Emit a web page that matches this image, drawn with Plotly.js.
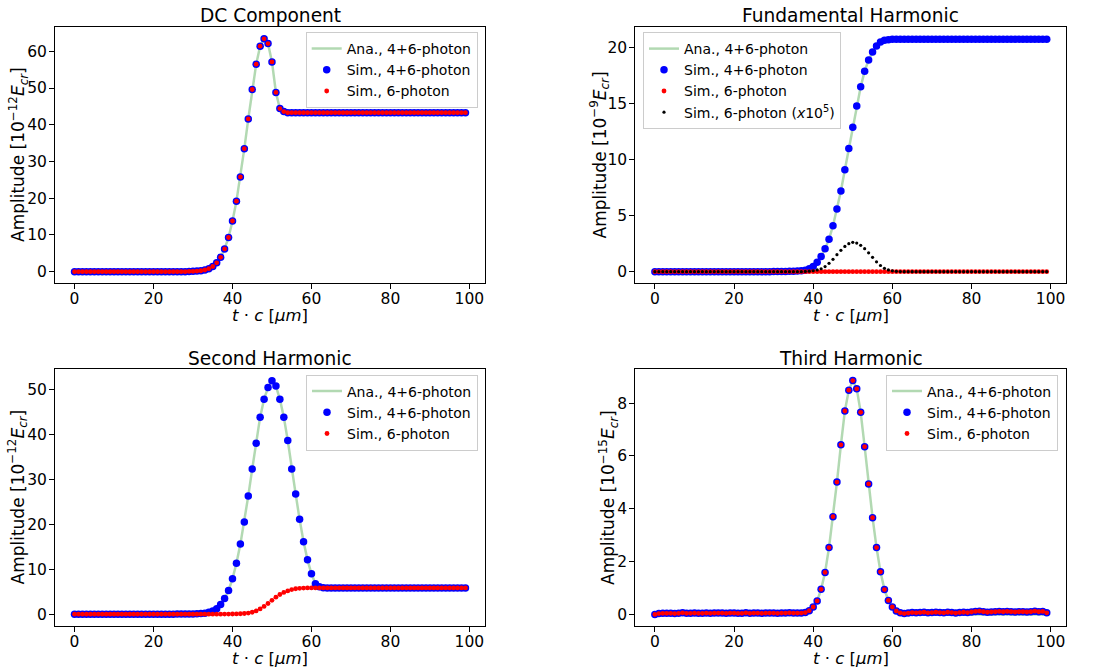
<!DOCTYPE html>
<html><head><meta charset="utf-8">
<script src="https://cdn.plot.ly/plotly-3.0.1.min.js"></script>
<style>html,body{margin:0;padding:0;background:#fff}#chart{width:1096px;height:671px}</style>
</head><body><div id="chart"></div>
<script>
// x positions t*c [um]
const tc = [0,1,2,3,4,5,6,7,8,9,10,11,12,13,14,15,16,17,18,19,20,21,22,23,24,25,26,27,28,29,30,31,32,33,34,35,36,37,38,39,40,41,42,43,44,45,46,47,48,49,50,51,52,53,54,55,56,57,58,59,60,61,62,63,64,65,66,67,68,69,70,71,72,73,74,75,76,77,78,79,80,81,82,83,84,85,86,87,88,89,90,91,92,93,94,95,96,97,98,99];

// DC component [1e-12 Ecr]
const dcSim = [0,0,0,0,0,0,0,0,0,0, 0,0,0,0,0,0,0,0,0,0, 0,0,0,0,0,0,0,0,0,0.05,
  0.1,0.15,0.25,0.45,0.8,1.4,2.4,3.9,6.2,9.3, 13.8,19.2,25.8,33.5,41.6,49.6,56.5,61.4,63.4,62.1,
  57.1,48.8,44.4,43.6,43.3,43.3,43.3,43.3,43.3,43.3,
  43.3,43.3,43.3,43.3,43.3,43.3,43.3,43.3,43.3,43.3, 43.3,43.3,43.3,43.3,43.3,43.3,43.3,43.3,43.3,43.3,
  43.3,43.3,43.3,43.3,43.3,43.3,43.3,43.3,43.3,43.3, 43.3,43.3,43.3,43.3,43.3,43.3,43.3,43.3,43.3,43.3];
const dcAna = dcSim;
const dcSim6 = dcSim;

// Fundamental harmonic [1e-9 Ecr]
const fundSim = [0,0,0,0,0,0,0,0,0,0, 0,0,0,0,0,0,0,0,0,0, 0,0,0,0,0,0,0,0,0,0,
  0.01,0.01,0.02,0.02,0.03,0.04,0.05,0.08,0.13,0.25, 0.45,0.85,1.35,2.05,2.9,4.1,5.6,7.2,9.1,11.0,
  12.9,14.8,16.5,17.9,18.9,19.6,20.15,20.5,20.65,20.7,
  20.74,20.75,20.76,20.75,20.74,20.76,20.75,20.75,20.74,20.76, 20.75,20.75,20.74,20.75,20.76,20.75,20.74,20.75,20.76,20.75,
  20.75,20.74,20.75,20.76,20.75,20.75,20.74,20.75,20.76,20.75, 20.74,20.75,20.75,20.76,20.75,20.74,20.75,20.75,20.76,20.75];
const fundAna = fundSim;
const fundSim6 = [0,0,0,0,0,0,0,0,0,0, 0,0,0,0,0,0,0,0,0,0, 0,0,0,0,0,0,0,0,0,0, 0,0,0,0,0,0,0,0,0,0,
  0,0,0,0,0,0,0,0,0,0, 0,0,0,0,0,0,0,0,0,0, 0,0,0,0,0,0,0,0,0,0, 0,0,0,0,0,0,0,0,0,0,
  0,0,0,0,0,0,0,0,0,0, 0,0,0,0,0,0,0,0,0,0];
const fundSim6x1e5 = [0,0,0,0,0,0,0,0,0,0, 0,0,0,0,0,0,0,0,0,0, 0,0,0,0,0,0,0,0,0,0,
  0,0,0,0,0,0,0,0,0.02,0.04, 0.08,0.15,0.26,0.45,0.74,1.1,1.52,1.9,2.25,2.5,
  2.62,2.55,2.35,2.05,1.68,1.28,0.88,0.55,0.3,0.15, 0.07,0.03,0.01,0,0,0,0,0,0,0,
  0,0,0,0,0,0,0,0,0,0, 0,0,0,0,0,0,0,0,0,0, 0,0,0,0,0,0,0,0,0,0];

// Second harmonic [1e-12 Ecr]
const secSim = [0.03,0.03,0.03,0.03,0.03,0.03,0.03,0.03,0.03,0.03, 0.03,0.03,0.03,0.03,0.03,0.03,0.03,0.03,0.03,0.03,
  0.03,0.03,0.03,0.03,0.03,0.03,0.04,0.05,0.06,0.07,
  0.08,0.1,0.15,0.25,0.45,0.75,1.25,2.15,3.5,5.3, 7.9,11.35,15.6,20.5,26.3,32.3,38.0,43.8,47.8,50.4,
  51.9,50.7,47.8,43.8,38.6,32.3,26.7,21.1,16.1,12.1, 9.0,6.8,6.1,5.9,5.86,5.86,5.86,5.86,5.86,5.86,
  5.86,5.86,5.86,5.86,5.86,5.86,5.86,5.86,5.86,5.86, 5.86,5.86,5.86,5.86,5.86,5.86,5.86,5.86,5.86,5.86,
  5.86,5.86,5.86,5.86,5.86,5.86,5.86,5.86,5.86,5.86];
const secAna = secSim;
const secSim6 = [0.02,0.02,0.02,0.02,0.02,0.02,0.02,0.02,0.02,0.02, 0.02,0.02,0.02,0.02,0.02,0.02,0.02,0.02,0.02,0.02,
  0.02,0.02,0.02,0.02,0.02,0.02,0.02,0.02,0.02,0.02, 0.02,0.02,0.02,0.02,0.02,0.02,0.02,0.03,0.04,0.05,
  0.07,0.09,0.12,0.18,0.28,0.45,0.75,1.2,1.75,2.4, 3.1,3.8,4.4,4.85,5.2,5.5,5.68,5.78,5.83,5.85,
  5.86,5.86,5.86,5.86,5.86,5.86,5.86,5.86,5.86,5.86, 5.86,5.86,5.86,5.86,5.86,5.86,5.86,5.86,5.86,5.86,
  5.86,5.86,5.86,5.86,5.86,5.86,5.86,5.86,5.86,5.86, 5.86,5.86,5.86,5.86,5.86,5.86,5.86,5.86,5.86,5.86];

// Third harmonic [1e-15 Ecr]
const thirdSim = [0.0,0.03,0.04,0.04,0.04,0.03,0.04,0.06,0.04,0.04,
  0.05,0.04,0.04,0.05,0.04,0.05,0.05,0.05,0.04,0.05, 0.05,0.04,0.04,0.06,0.04,0.05,0.05,0.04,0.05,0.05,
  0.05,0.04,0.05,0.05,0.06,0.05,0.05,0.05,0.07,0.14,
  0.28,0.51,0.95,1.59,2.53,3.70,5.01,6.42,7.70,8.49, 8.85,8.54,7.65,6.35,4.94,3.66,2.53,1.61,0.94,0.53,
  0.28,0.13,0.06,0.03,0.05,0.07,0.06,0.07,0.08,0.06, 0.07,0.08,0.07,0.06,0.08,0.07,0.05,0.07,0.08,0.07,
  0.09,0.11,0.12,0.1,0.08,0.09,0.1,0.11,0.1,0.11, 0.1,0.09,0.1,0.1,0.09,0.1,0.12,0.1,0.11,0.06];
const thirdAna = [0,0,0,0,0,0,0,0,0,0, 0,0,0,0,0,0,0,0,0,0, 0,0,0,0,0,0,0,0,0,0,
  0,0,0,0,0,0.01,0.01,0.02,0.05,0.13,
  0.28,0.51,0.95,1.59,2.53,3.70,5.01,6.42,7.70,8.49, 8.85,8.54,7.65,6.35,4.94,3.66,2.53,1.61,0.94,0.53,
  0.27,0.12,0.05,0.02,0.01,0,0,0,0,0, 0,0,0,0,0,0,0,0,0,0, 0,0,0,0,0,0,0,0,0,0, 0,0,0,0,0,0,0,0,0,0];
const thirdSim6 = thirdSim;

const panelTitles = ['DC Component','Fundamental Harmonic','Second Harmonic','Third Harmonic'];
const yLabels = [
  'Amplitude [10<sup>−12</sup><i>E</i><sub><i>cr</i></sub>]',
  'Amplitude [10<sup>−9</sup><i>E</i><sub><i>cr</i></sub>]',
  'Amplitude [10<sup>−12</sup><i>E</i><sub><i>cr</i></sub>]',
  'Amplitude [10<sup>−15</sup><i>E</i><sub><i>cr</i></sub>]'];
const xLabel = '<i>t</i> · <i>c</i> [<i>μm</i>]';
const legAna = 'Ana., 4+6-photon', legSim = 'Sim., 4+6-photon', legSim6 = 'Sim., 6-photon';
const legSim6x = 'Sim., 6-photon (<i>x</i>10<sup>5</sup>)';

const FONT = 'DejaVu Sans, Arial, sans-serif';
const W = 1096, H = 671;
const px = v => v / W, py = v => 1 - v / H;

const panels = [
  {ana: dcAna, sim: dcSim, sim6: dcSim6},
  {ana: fundAna, sim: fundSim, sim6: fundSim6, sim6x: fundSim6x1e5},
  {ana: secAna, sim: secSim, sim6: secSim6},
  {ana: thirdAna, sim: thirdSim, sim6: thirdSim6}];

const traces = [];
panels.forEach((p, i) => {
  const xa = i === 0 ? 'x' : 'x' + (i + 1), ya = i === 0 ? 'y' : 'y' + (i + 1);
  const lg = i === 0 ? 'legend' : 'legend' + (i + 1);
  traces.push({x: tc, y: p.ana, xaxis: xa, yaxis: ya, legend: lg, name: legAna, type: 'scatter', mode: 'lines',
    line: {color: 'rgba(0,128,0,0.3)', width: 2.5}});
  traces.push({x: tc, y: p.sim, xaxis: xa, yaxis: ya, legend: lg, name: legSim, type: 'scatter', mode: 'markers',
    marker: {color: '#0000ff', size: 7.5}});
  traces.push({x: tc, y: p.sim6, xaxis: xa, yaxis: ya, legend: lg, name: legSim6, type: 'scatter', mode: 'markers',
    marker: {color: '#ff0000', size: 4.8}});
  if (p.sim6x) traces.push({x: tc, y: p.sim6x, xaxis: xa, yaxis: ya, legend: lg, name: legSim6x, type: 'scatter', mode: 'markers',
    marker: {color: '#000000', size: 3.2}});
});

const xDomL = [px(55), px(485)], xDomR = [px(635.3), px(1066.3)];
const yDomT = [py(283.3), py(26.7)], yDomB = [py(626), py(369)];
const axBase = {showline: true, linecolor: 'black', linewidth: 1, mirror: true, ticks: 'outside', ticklen: 5,
  tickwidth: 1, tickcolor: 'black', showgrid: false, zeroline: false, automargin: false,
  tickfont: {family: FONT, size: 15.5, color: 'black'}};
const xAx = d => Object.assign({}, axBase, {domain: d, range: [-4.95, 103.95], tickvals: [0, 20, 40, 60, 80, 100], ticklabelstandoff: -4});
const yAx = (d, r, dt, anchor) => Object.assign({}, axBase, {domain: d, range: r, dtick: dt, tick0: 0, anchor: anchor, ticklabelstandoff: -1});

const legBase = {bgcolor: 'rgba(255,255,255,0.8)', bordercolor: '#cccccc', borderwidth: 1,
  font: {family: FONT, size: 14, color: 'black'}, yanchor: 'top', tracegroupgap: 0};

const annotations = [];
const centers = [[270, 15, 155, 315, 18], [850.8, 15, 155, 315, 599.5], [270, 358.3, 497.5, 658, 18], [850.8, 358.3, 497.5, 658, 608.5]];
centers.forEach((c, i) => {
  annotations.push({xref: 'paper', yref: 'paper', x: px(c[0]), y: py(c[1]), text: panelTitles[i], showarrow: false,
    xanchor: 'center', yanchor: 'middle', font: {family: FONT, size: 18.6, color: 'black'}});
  annotations.push({xref: 'paper', yref: 'paper', x: px(c[0]), y: py(c[3]), text: xLabel, showarrow: false,
    xanchor: 'center', yanchor: 'middle', font: {family: FONT, size: 16.5, color: 'black'}});
  annotations.push({xref: 'paper', yref: 'paper', x: px(c[4]), y: py(c[2]), text: yLabels[i], showarrow: false,
    textangle: -90, xanchor: 'center', yanchor: 'middle', font: {family: FONT, size: 17, color: 'black'}});
});

const layout = {
  width: W, height: H, margin: {l: 0, r: 0, t: 0, b: 0}, paper_bgcolor: 'white', plot_bgcolor: 'white',
  font: {family: FONT, color: 'black'},
  xaxis: xAx(xDomL), yaxis: yAx(yDomT, [-3.17, 66.7], 10, 'x'),
  xaxis2: Object.assign(xAx(xDomR), {anchor: 'y2'}), yaxis2: yAx(yDomT, [-1.04, 21.87], 5, 'x2'),
  xaxis3: Object.assign(xAx(xDomL), {anchor: 'y3'}), yaxis3: yAx(yDomB, [-2.6, 54.5], 10, 'x3'),
  xaxis4: Object.assign(xAx(xDomR), {anchor: 'y4'}), yaxis4: yAx(yDomB, [-0.44, 9.29], 2, 'x4'),
  legend: Object.assign({}, legBase, {x: px(477.7), xanchor: 'right', y: py(32)}),
  legend2: Object.assign({}, legBase, {x: px(643), xanchor: 'left', y: py(32)}),
  legend3: Object.assign({}, legBase, {x: px(478), xanchor: 'right', y: py(374.5)}),
  legend4: Object.assign({}, legBase, {x: px(1058), xanchor: 'right', y: py(374.5)}),
  annotations: annotations, showlegend: true
};
layout.xaxis.anchor = 'y';

Plotly.newPlot('chart', traces, layout, {staticPlot: true, displayModeBar: false});
</script></body></html>
